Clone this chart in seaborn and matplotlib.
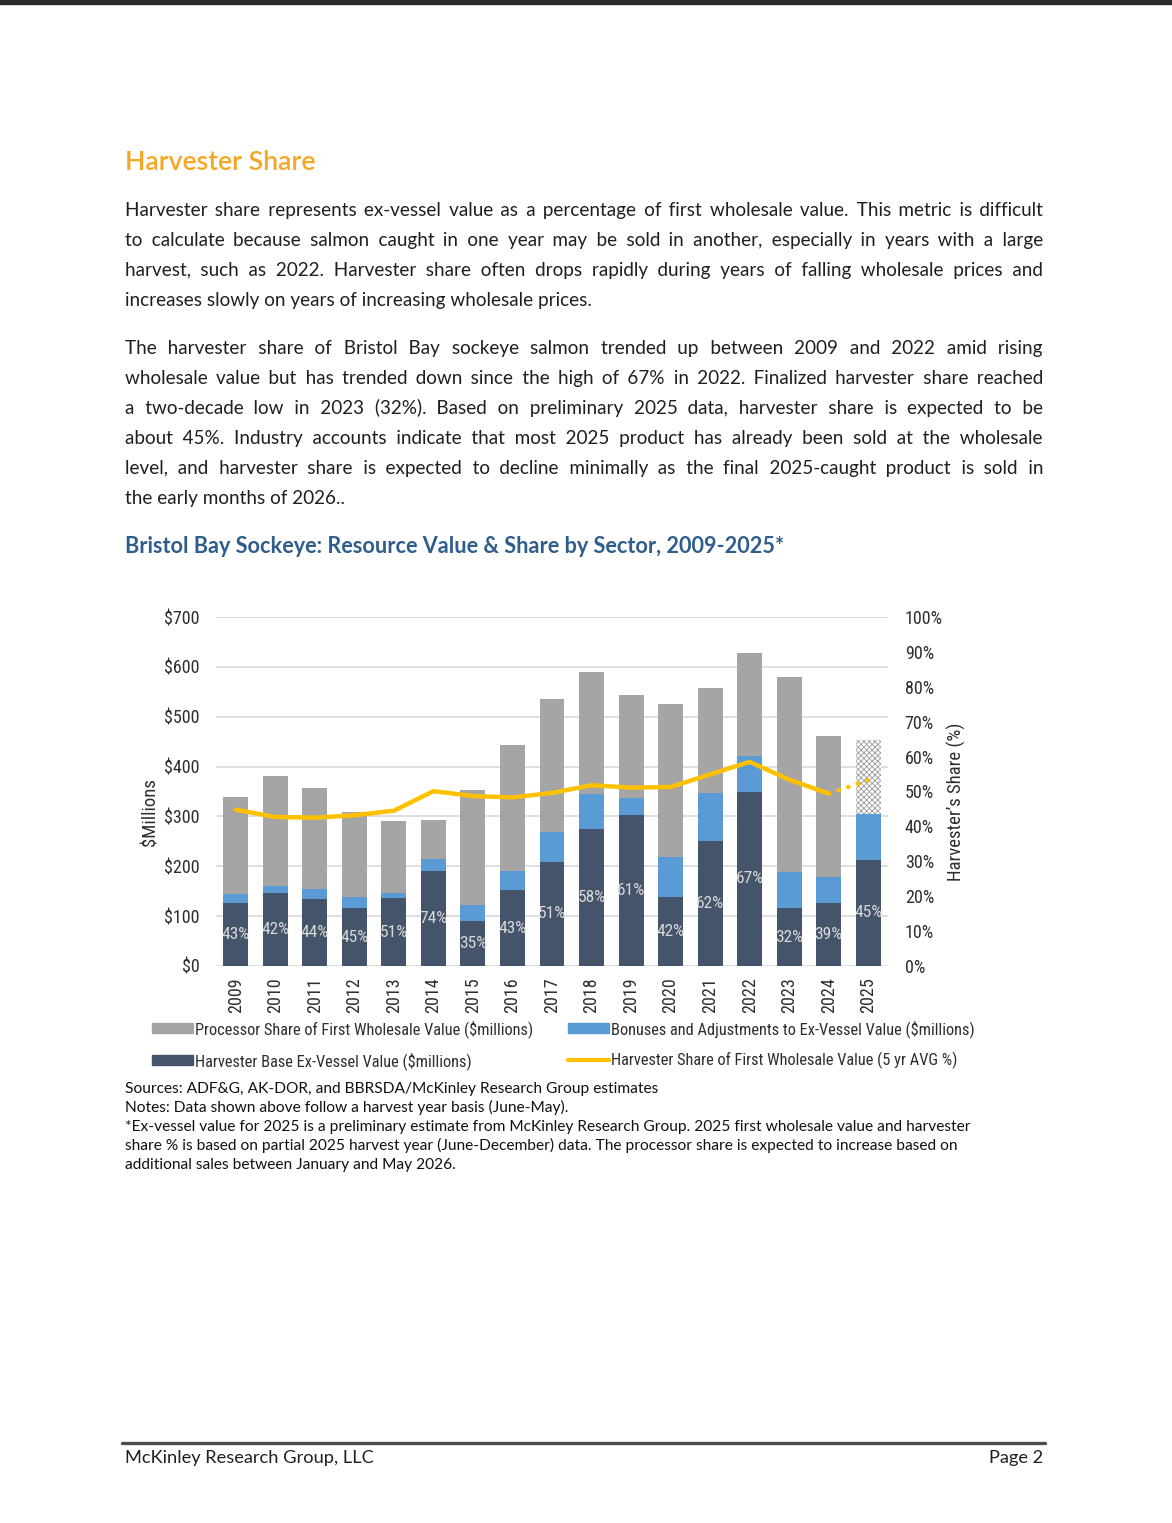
import numpy as np
import matplotlib.pyplot as plt
import matplotlib.ticker as mtick
from matplotlib.patches import Patch, Rectangle
from matplotlib.lines import Line2D
import seaborn as sns

# values ($ millions)
years = [str(y) for y in range(2009, 2026)]
base_vals = [127, 147, 134, 116, 136, 191, 90, 152, 209, 274, 302, 139, 250, 349, 116, 126, 213]
bonus_vals = [18, 13, 20, 22, 11, 24, 33, 39, 60, 70, 34, 79, 96, 72, 73, 52, 91]
processor_vals = [194, 221, 204, 171, 143, 77, 231, 253, 266, 245, 208, 307, 212, 206, 390, 283, 149]
share_labels = ['43%', '42%', '44%', '45%', '51%', '74%', '35%', '43%', '51%',
                '58%', '61%', '42%', '62%', '67%', '32%', '39%', '45%']
avg_share = [0.448, 0.427, 0.425, 0.432, 0.445, 0.501, 0.487, 0.483, 0.496,
             0.518, 0.511, 0.513, 0.549, 0.585, 0.534, 0.494, 0.532]
left_ticks = [0, 100, 200, 300, 400, 500, 600, 700]
right_ticks = [0, 0.1, 0.2, 0.3, 0.4, 0.5, 0.6, 0.7, 0.8, 0.9, 1.0]

para1 = [
    "Harvester share represents ex-vessel value as a percentage of first wholesale value. This metric is difficult",
    "to calculate because salmon caught in one year may be sold in another, especially in years with a large",
    "harvest, such as 2022. Harvester share often drops rapidly during years of falling wholesale prices and",
    "increases slowly on years of increasing wholesale prices.",
]
para2 = [
    "The harvester share of Bristol Bay sockeye salmon trended up between 2009 and 2022 amid rising",
    "wholesale value but has trended down since the high of 67% in 2022. Finalized harvester share reached",
    "a two-decade low in 2023 (32%).  Based on preliminary 2025 data, harvester share is expected to be",
    "about 45%. Industry accounts indicate that most 2025 product has already been sold at the wholesale",
    "level, and harvester share is expected to decline minimally as the final 2025-caught product is sold in",
    "the early months of 2026..",
]
notes = [
    "Sources: ADF&G, AK-DOR, and BBRSDA/McKinley Research Group estimates",
    "Notes: Data shown above follow a harvest year basis (June-May).",
    "*Ex-vessel value for 2025 is a preliminary estimate from McKinley Research Group. 2025 first wholesale value and harvester",
    "share % is based on partial 2025 harvest year (June-December) data. The processor share is expected to increase based on",
    "additional sales between January and May 2026.",
]

GREY = '#a5a5a5'
BLUE = '#5b9bd5'
NAVY = '#44546a'
GOLD = '#ffc000'
TXT = '#2e2e2e'
BODY = ['Lato', 'DejaVu Sans']
CHART = ['Roboto Condensed', 'Archivo Narrow', 'Roboto', 'DejaVu Sans']

sns.set_theme(style='white')
plt.rcParams['font.family'] = CHART
plt.rcParams['text.parse_math'] = False
plt.rcParams['hatch.linewidth'] = 0.6
plt.rcParams['hatch.color'] = '#9a9a9a'

W, H = 1172, 1523
def fx(x):
    return x / W
def fy(y):
    return 1 - y / H

fig = plt.figure(figsize=(W / 100, H / 100), dpi=100)
renderer = fig.canvas.get_renderer()

def text_width(s, size, **kw):
    t = fig.text(0, 0, s, fontsize=size, **kw)
    w = t.get_window_extent(renderer).width
    t.remove()
    return w

def fit_size(s, target, **kw):
    return 12 * target / text_width(s, 12, **kw)

mid = [b + s for b, s in zip(base_vals, bonus_vals)]
top = [m + p for m, p in zip(mid, processor_vals)]

ax = fig.add_axes([fx(216), fy(966), fx(888) - fx(216), fy(617) - fy(966)])
sns.barplot(x=years, y=top, color=GREY, saturation=1, width=0.63, linewidth=0, errorbar=None, ax=ax)
sns.barplot(x=years, y=mid, color=BLUE, saturation=1, width=0.63, linewidth=0, errorbar=None, ax=ax)
sns.barplot(x=years, y=base_vals, color=NAVY, saturation=1, width=0.63, linewidth=0, errorbar=None, ax=ax)

# 2025 processor share is still an estimate: dotted fill
est = ax.patches[len(years) - 1]
est.set_facecolor('white')
est.set_edgecolor('#9a9a9a')
est.set_hatch('xxxxxx')
est.set_linewidth(0)

ax.bar_label(ax.containers[2], labels=share_labels, label_type='center',
             color='#d9d9d9', fontsize=12.5)

ax.set_xlim(-0.5, len(years) - 0.5)
ax.set_ylim(0, 700)
ax.set_yticks(left_ticks)
ax.yaxis.set_major_formatter(mtick.StrMethodFormatter('${x:,.0f}'))
ax.yaxis.grid(True, color='#d9d9d9', linewidth=1.2)
ax.set_axisbelow(True)
ax.set_xlabel('')
ax.set_ylabel('')
ax.tick_params(axis='x', rotation=90, length=0, pad=8, labelsize=13, labelcolor=TXT)
ax.tick_params(axis='y', length=0, pad=12, labelsize=13, labelcolor=TXT)
for s in ax.spines.values():
    s.set_visible(False)

ax2 = ax.twinx()
sns.lineplot(x=np.arange(len(years) - 1), y=avg_share[:-1], color=GOLD, linewidth=3.2,
             solid_capstyle='round', ax=ax2)
sns.lineplot(x=np.arange(len(years) - 2, len(years)), y=avg_share[-2:], color=GOLD, linewidth=3.2,
             linestyle=(0, (0.1, 2.2)), dash_capstyle='round', ax=ax2)
ax2.set_ylim(0, 1)
ax2.set_yticks(right_ticks)
ax2.yaxis.set_major_formatter(mtick.PercentFormatter(1.0, decimals=0))
ax2.tick_params(axis='y', length=0, pad=12, labelsize=13, labelcolor=TXT)
ax2.set_ylabel('')
for s in ax2.spines.values():
    s.set_visible(False)

fig.text(fx(150), fy(812), '$Millions', rotation=90, ha='center', va='center', fontsize=13.5, color=TXT)
fig.text(fx(956), fy(802), 'Harvester\u2019s Share (%)', rotation=90, ha='center', va='center',
         fontsize=13.5, color=TXT)

# legend: one 2-column legend, second column starting where the reference has it
handles = [Patch(color=GREY), Patch(color=NAVY), Patch(color=BLUE), Line2D([], [], color=GOLD, linewidth=3)]
labels = ['Processor Share of First Wholesale Value ($millions)', 'Harvester Base Ex-Vessel Value ($millions)',
          'Bonuses and Adjustments to Ex-Vessel Value ($millions)',
          'Harvester Share of First Wholesale Value (5 yr AVG %)']
leg_fs = 11.8
fs_px = leg_fs * 100 / 72
col1_w = max(text_width(l, leg_fs) for l in labels[:2])
hl, hp = 2.5, 0.12
colsp = (568 - 152 - (hl + hp) * fs_px - col1_w) / fs_px
fig.legend(handles, labels, ncol=2, loc='upper left', bbox_to_anchor=(fx(152), fy(1020)),
           frameon=False, fontsize=leg_fs, handlelength=hl, handleheight=0.6,
           handletextpad=hp, columnspacing=colsp, labelspacing=0.85, borderpad=0,
           borderaxespad=0, labelcolor=TXT)

# page text
INK = '#1f1f1f'
HAIR = '\u200a'

def justify(line, y, x0, x1, size):
    # spread the line to the column width with spaces + hair spaces between words
    words = line.split()
    sp = text_width('a a', size, family=BODY) - text_width('aa', size, family=BODY)
    hs = text_width('a' + HAIR * 4 + 'a', size, family=BODY) - text_width('aa', size, family=BODY)
    hs = max(hs / 4, 0.3)
    natural = text_width(' '.join(words), size, family=BODY)
    gaps = len(words) - 1
    gap = sp + max(0.0, x1 - x0 - natural) / gaps
    out = words[0]
    carry = 0.0
    for w in words[1:]:
        want = gap + carry
        k = max(1, int(want // sp))
        m = max(0, int(round((want - k * sp) / hs)))
        carry = want - k * sp - m * hs
        out += ' ' * k + HAIR * m + w
    fig.text(fx(x0), fy(y), out, fontsize=size, color=INK, family=BODY, va='baseline')

def paragraph(lines, y0, size):
    for i, line in enumerate(lines):
        y = y0 + i * 30
        if i == len(lines) - 1:
            fig.text(fx(125), fy(y), line, fontsize=size, color=INK, family=BODY, va='baseline')
        else:
            justify(line, y, 125, 1043, size)

fig.add_artist(Rectangle((0, fy(4)), 1, 4 / H, transform=fig.transFigure, color='#2b2b2b'))

t_size = fit_size('Harvester Share', 191, family=BODY, fontweight='semibold')
fig.text(fx(125), fy(170), 'Harvester Share', fontsize=t_size, fontweight='semibold', color='#f5a623',
         family=BODY, va='baseline')
body_size = 13.6
paragraph(para1, 216, body_size)
paragraph(para2, 354, body_size)
ct = 'Bristol Bay Sockeye: Resource Value & Share by Sector, 2009-2025*'
c_size = fit_size(ct, 654, family=BODY, fontweight='bold')
fig.text(fx(125), fy(553), ct, fontsize=c_size, fontweight='bold', color='#2f5d8c', family=BODY, va='baseline')

n_size = min(fit_size(notes[2], 876, family=BODY), 11.2)
for i, line in enumerate(notes):
    fig.text(fx(125), fy(1093 + i * 19), line, fontsize=n_size, color='#111111', family=BODY, va='baseline')

fig.add_artist(Line2D([fx(122), fx(1045)], [fy(1443), fy(1443)], transform=fig.transFigure,
                      color='#4d4d4d', linewidth=2.4))
f_size = fit_size('McKinley Research Group, LLC', 248, family=BODY)
fig.text(fx(125), fy(1463), 'McKinley Research Group, LLC', fontsize=f_size, color=INK,
         family=BODY, va='baseline')
fig.text(fx(1043), fy(1463), 'Page 2', fontsize=f_size, color=INK, family=BODY, va='baseline', ha='right')

fig.savefig('out.png', dpi=100, facecolor='white')
